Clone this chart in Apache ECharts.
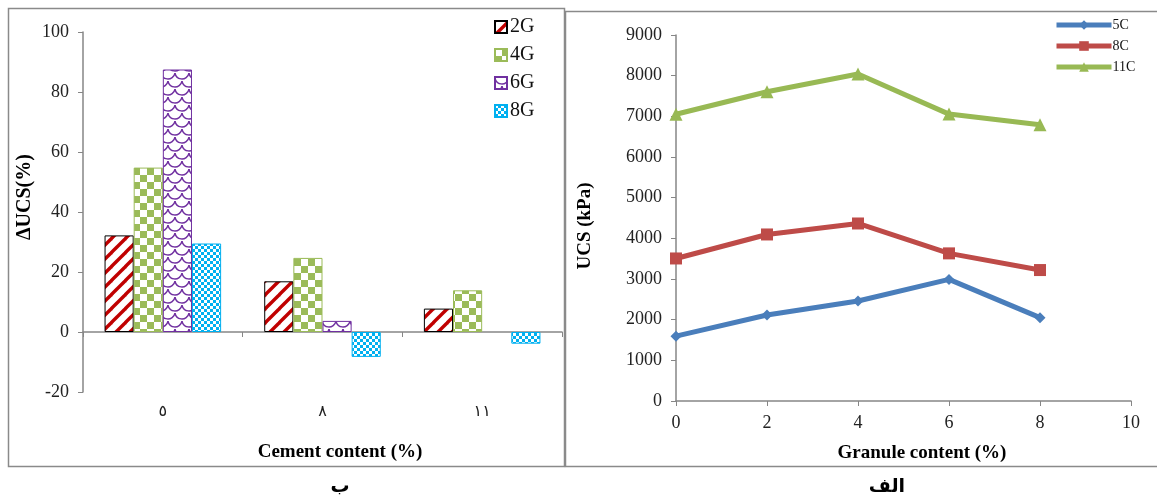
<!DOCTYPE html>
<html><head><meta charset="utf-8">
<script src="https://cdn.jsdelivr.net/npm/echarts@6/dist/echarts.min.js"></script>
<style>html,body{margin:0;padding:0;background:#fff}#c{width:1157px;height:502px}</style>
</head><body><div id="c"></div>
<script>
// ---- Data: left chart (ΔUCS %) ----
const cementCats = ['٥', '٨', '١١'];
const s2G = [32.2, 16.9, 7.8];
const s4G = [54.8, 24.7, 13.9];
const s6G = [87.5, 3.7, null];
const s8G = [29.5, -8.3, -3.9];

// ---- Data: right chart (UCS kPa) ----
const granule = [0, 2, 4, 6, 8];
const c5 = [1595, 2115, 2460, 2990, 2050];
const c8 = [3505, 4095, 4365, 3630, 3220];
const c11 = [7050, 7605, 8040, 7055, 6795];

const SERIF = "'Liberation Serif', 'DejaVu Serif', 'DejaVu Sans', serif";

function mk(w, h, draw) {
  const c = document.createElement('canvas'); c.width = w; c.height = h;
  const g = c.getContext('2d'); g.fillStyle = '#fff'; g.fillRect(0, 0, w, h); draw(g); return c;
}
const pat2 = mk(14, 14, g => {
  g.strokeStyle = '#C00000'; g.lineWidth = 3.4;
  for (const o of [-14, 0, 14]) { g.beginPath(); g.moveTo(o - 1, 15); g.lineTo(o + 15, -1); g.stroke(); }
});
const pat4 = mk(14, 14, g => {
  g.fillStyle = '#9BBB59'; g.fillRect(7, 0, 7, 7); g.fillRect(0, 7, 7, 7);
});
const pat6 = mk(14, 16, g => {
  g.strokeStyle = '#7030A0'; g.lineWidth = 1.4;
  const arcs = [[7, 0], [0, 8], [14, 8], [7, 16]];
  for (const [x, y] of arcs) { g.beginPath(); g.arc(x, y, 7, 0.15, Math.PI - 0.15); g.stroke(); }
});
const pat8 = mk(6, 6, g => {
  g.fillStyle = '#00B0F0'; g.fillRect(3, 0, 3, 3); g.fillRect(0, 3, 3, 3);
});

function barSeries(name, data, pat, border) {
  return {
    name, type: 'bar', xAxisIndex: 0, yAxisIndex: 0, data,
    barGap: '0%', barCategoryGap: '27%',
    itemStyle: { color: { image: pat, repeat: 'repeat' }, borderColor: border, borderWidth: 1 },
    emphasis: { disabled: true }
  };
}
function lineSeries(name, ys, color, symbol, size) {
  return {
    name, type: 'line', xAxisIndex: 2, yAxisIndex: 1,
    data: granule.map((x, i) => [x, ys[i]]),
    symbol, symbolSize: size, color,
    lineStyle: { width: 5, color }, itemStyle: { color },
    emphasis: { disabled: true }
  };
}

const axisGray = '#868686';
const chart = echarts.init(document.getElementById('c'));
chart.setOption({
  animation: false,
  backgroundColor: '#fff',
  grid: [
    { left: 83, right: 595, top: 32, bottom: 110 },
    { left: 676, right: 26, top: 35, bottom: 101 }
  ],
  xAxis: [
    { type: 'category', gridIndex: 0, data: cementCats, position: 'bottom',
      axisLine: { onZero: true, lineStyle: { color: axisGray, width: 1.5 } },
      axisTick: { show: true, length: 5, lineStyle: { color: axisGray } },
      axisLabel: { show: false }, splitLine: { show: false } },
    { type: 'category', gridIndex: 0, data: cementCats, position: 'bottom',
      axisLine: { show: false, onZero: false }, axisTick: { show: false },
      axisLabel: { margin: 12, fontSize: 16, color: '#222', fontFamily: SERIF }, splitLine: { show: false } },
    { type: 'value', gridIndex: 1, min: 0, max: 10, interval: 2,
      axisLine: { lineStyle: { color: axisGray, width: 1.5 } },
      axisTick: { show: true, length: 5, lineStyle: { color: axisGray } },
      axisLabel: { margin: 13, fontSize: 18, color: '#222', fontFamily: SERIF }, splitLine: { show: false } }
  ],
  yAxis: [
    { type: 'value', gridIndex: 0, min: -20, max: 100, interval: 20,
      axisLine: { show: true, lineStyle: { color: axisGray, width: 1.5 } },
      axisTick: { show: true, length: 5, lineStyle: { color: axisGray } },
      axisLabel: { margin: 14, fontSize: 18, color: '#222', fontFamily: SERIF }, splitLine: { show: false } },
    { type: 'value', gridIndex: 1, min: 0, max: 9000, interval: 1000,
      axisLine: { show: true, lineStyle: { color: axisGray, width: 1.5 } },
      axisTick: { show: true, length: 5, lineStyle: { color: axisGray } },
      axisLabel: { margin: 14, fontSize: 18, color: '#222', fontFamily: SERIF, formatter: v => String(v) }, splitLine: { show: false } }
  ],
  legend: [
    { data: ['2G', '4G', '6G', '8G'], orient: 'vertical', left: 489, top: 12,
      icon: 'rect', itemWidth: 12, itemHeight: 12, itemGap: 8,
      textStyle: { fontSize: 20, lineHeight: 20, color: '#111', fontFamily: SERIF, padding: [0, 0, 0, -2] } },
    { data: ['5C', '8C', '11C'], orient: 'vertical', left: 1049, top: 13,
      itemWidth: 55, itemHeight: 12, itemGap: 7,
      lineStyle: { width: 5 },
      textStyle: { fontSize: 14, color: '#111', fontFamily: SERIF, padding: [0, 0, 0, -4] } }
  ],
  series: [
    barSeries('2G', s2G, pat2, '#000'),
    barSeries('4G', s4G, pat4, '#9BBB59'),
    barSeries('6G', s6G, pat6, '#7030A0'),
    barSeries('8G', s8G, pat8, '#00B0F0'),
    lineSeries('5C', c5, '#4A7EBB', 'diamond', 11),
    lineSeries('8C', c8, '#BE4B48', 'rect', 12),
    lineSeries('11C', c11, '#98B954', 'triangle', 13)
  ],
  graphic: [
    { type: 'rect', shape: { x: 8.5, y: 8.5, width: 556, height: 458 }, style: { fill: 'none', stroke: '#8a8a8a', lineWidth: 1.5 }, silent: true },
    { type: 'rect', shape: { x: 565.5, y: 11.5, width: 600, height: 455 }, style: { fill: 'none', stroke: '#8a8a8a', lineWidth: 1.5 }, silent: true },
    { type: 'text', x: 25, y: 197, rotation: Math.PI / 2, style: { text: 'ΔUCS(%)', font: "bold 20px " + SERIF, fill: '#000', textAlign: 'center', textVerticalAlign: 'middle' } },
    { type: 'text', x: 340, y: 452, style: { text: 'Cement content (%)', font: "bold 19px " + SERIF, fill: '#000', textAlign: 'center', textVerticalAlign: 'middle' } },
    { type: 'text', x: 585, y: 226, rotation: Math.PI / 2, style: { text: 'UCS (kPa)', font: "bold 19px " + SERIF, fill: '#000', textAlign: 'center', textVerticalAlign: 'middle' } },
    { type: 'text', x: 922, y: 453, style: { text: 'Granule content (%)', font: "bold 19px " + SERIF, fill: '#000', textAlign: 'center', textVerticalAlign: 'middle' } },
    { type: 'text', x: 340, y: 487, style: { text: 'ب', font: "bold 19px 'DejaVu Sans', sans-serif", fill: '#000', textAlign: 'center', textVerticalAlign: 'middle' } },
    { type: 'text', x: 887, y: 487, style: { text: 'الف', font: "bold 19px 'DejaVu Sans', sans-serif", fill: '#000', textAlign: 'center', textVerticalAlign: 'middle' } }
  ]
});
</script></body></html>
